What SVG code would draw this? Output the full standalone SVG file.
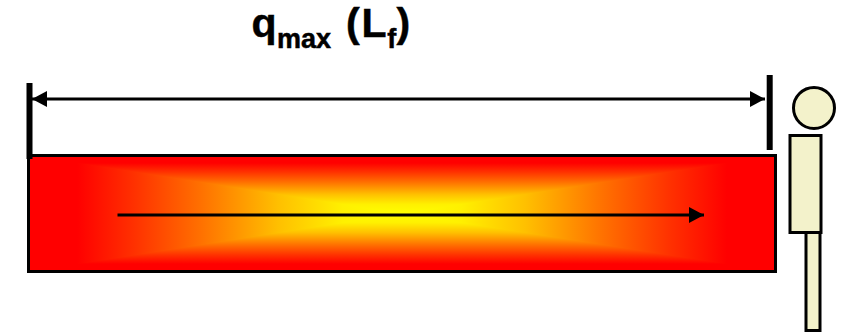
<svg xmlns="http://www.w3.org/2000/svg" width="843" height="333" viewBox="0 0 843 333">
<style>
.ln{stroke:#000;stroke-width:3;fill:none}
.bar{stroke:#000;stroke-width:6;fill:none}
.skin{fill:#F3F2CB;stroke:#000;stroke-width:3}
.ttl{font-family:"Liberation Sans",Arial,sans-serif;font-weight:700;font-size:41px;fill:#000;stroke:#000;stroke-width:0.5}
.sub{font-size:27px}
</style>
<defs>
<linearGradient id="gv" gradientUnits="userSpaceOnUse" x1="0" y1="155.5" x2="0" y2="271.5">
<stop offset="0.065" stop-color="#f00"/><stop offset="0.14" stop-color="#ff3000"/><stop offset="0.23" stop-color="#ff7000"/><stop offset="0.335" stop-color="#ffc000"/><stop offset="0.42" stop-color="#fff000"/><stop offset="0.5" stop-color="#ff0"/><stop offset="0.58" stop-color="#fff000"/><stop offset="0.665" stop-color="#ffc000"/><stop offset="0.77" stop-color="#ff7000"/><stop offset="0.86" stop-color="#ff3000"/><stop offset="0.935" stop-color="#f00"/>
</linearGradient>
<linearGradient id="gh" gradientUnits="userSpaceOnUse" x1="28.5" y1="0" x2="775.5" y2="0">
<stop offset="0.065" stop-color="#f00"/><stop offset="0.14" stop-color="#ff3000"/><stop offset="0.23" stop-color="#ff7000"/><stop offset="0.335" stop-color="#ffc000"/><stop offset="0.42" stop-color="#fff000"/><stop offset="0.5" stop-color="#ff0"/><stop offset="0.58" stop-color="#fff000"/><stop offset="0.665" stop-color="#ffc000"/><stop offset="0.77" stop-color="#ff7000"/><stop offset="0.86" stop-color="#ff3000"/><stop offset="0.935" stop-color="#f00"/>
</linearGradient>
<clipPath id="sides"><polygon points="28.5,155.500 402,213.500 775.5,155.500 775.5,271.500 402,213.500 28.5,271.500"/></clipPath>
<marker id="ah" markerUnits="userSpaceOnUse" markerWidth="16" markerHeight="16" refX="15" refY="8" orient="auto-start-reverse"><path d="M0,0L15,8L0,16Z" fill="#000"/></marker>
</defs>
<g id="title"><text class="ttl" y="37"><tspan x="251.500">q</tspan><tspan class="sub" x="277" y="47.500">max </tspan><tspan x="346" y="37">(</tspan><tspan x="361.400">L</tspan><tspan class="sub" x="387.200" y="47.500">f</tspan><tspan x="396.500" y="37">)</tspan></text></g>
<g id="flame">
<rect x="28.5" y="155.5" width="747" height="116" fill="url(#gv)"/>
<rect x="28.5" y="155.5" width="747" height="116" fill="url(#gh)" clip-path="url(#sides)"/>
<rect x="28.5" y="155.5" width="747" height="116" class="ln"/>
</g>
<g id="person">
<rect x="806" y="232" width="14" height="98.500" class="skin"/>
<rect x="790" y="135.500" width="31" height="97" class="skin"/>
<circle cx="814" cy="108" r="20.500" class="skin"/>
</g>
<g id="connectors">
<path class="bar" d="M29.500,83V159M769.700,75V150"/>
<path class="ln" d="M32,99H765" marker-start="url(#ah)" marker-end="url(#ah)"/>
<path class="ln" d="M117.500,215H704" marker-end="url(#ah)"/>
</g>
</svg>
